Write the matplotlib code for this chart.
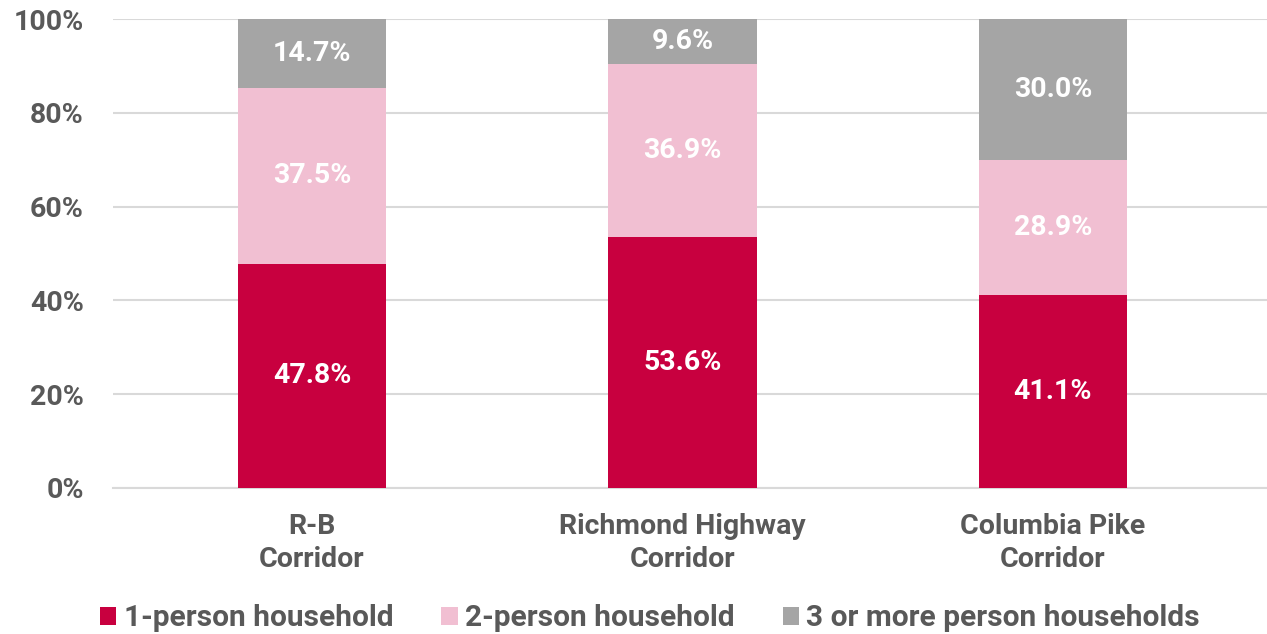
import matplotlib.pyplot as plt
import numpy as np

plt.rcParams['font.family'] = ['Roboto', 'DejaVu Sans']
plt.rcParams['font.weight'] = 'bold'

categories = ['R-B\nCorridor', 'Richmond Highway\nCorridor', 'Columbia Pike\nCorridor']
one_person = [47.8, 53.6, 41.1]
two_person = [37.5, 36.9, 28.9]
three_plus = [14.7, 9.6, 30.0]
series_names = ['1-person household', '2-person household', '3 or more person households']
colors = ['#C8003F', '#F1BFD2', '#A5A5A5']
text_gray = '#595959'

fig = plt.figure(figsize=(12.67, 6.34), dpi=100)
ax = fig.add_axes([0.0892, 0.2303, 0.9108, 0.7397])

x = np.arange(len(categories))
bottom = np.zeros(len(categories))
for vals, name, col in zip([one_person, two_person, three_plus], series_names, colors):
    vals = np.array(vals)
    ax.bar(x, vals, 0.4, bottom=bottom, color=col, label=name, zorder=3)
    for xi, b, v in zip(x, bottom, vals):
        ax.text(xi, b + v / 2, f'{v:.1f}%', ha='center', va='center',
                color='white', fontsize=20.5, fontweight='bold', zorder=4)
    bottom += vals

ax.set_xlim(-0.537, 2.578)
ax.set_ylim(0, 100)
ax.set_yticks([0, 20, 40, 60, 80, 100])
ax.set_yticklabels([f'{t}%' for t in [0, 20, 40, 60, 80, 100]])
ax.set_xticks(x)
ax.set_xticklabels(categories, linespacing=1.3)
ax.yaxis.grid(True, color='#D9D9D9', linewidth=1.5, zorder=0)
ax.set_axisbelow(True)
for s in ['top', 'right', 'left']:
    ax.spines[s].set_visible(False)
ax.spines['bottom'].set_color('#D9D9D9')
ax.spines['bottom'].set_linewidth(1.5)
ax.tick_params(axis='both', length=0, colors=text_gray, labelsize=20.5)
ax.tick_params(axis='x', pad=18)
ax.tick_params(axis='y', pad=21)

fig.legend(loc='lower center', bbox_to_anchor=(0.513, -0.04), ncol=3, frameon=False,
           fontsize=21.5, labelcolor=text_gray, handlelength=0.55, handleheight=0.55,
           handletextpad=0.25, columnspacing=1.6)

fig.savefig('out.png', dpi=100)
